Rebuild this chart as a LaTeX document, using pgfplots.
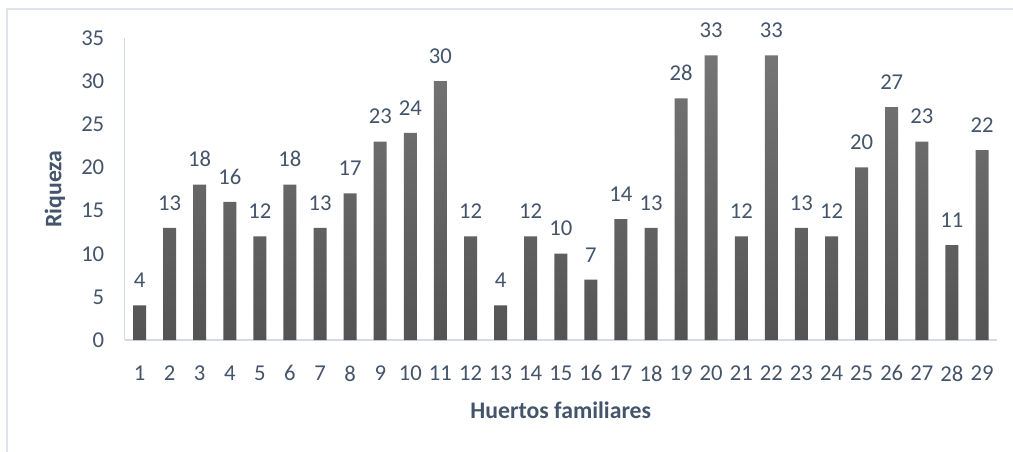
\documentclass[border=0pt]{standalone}
\usepackage{pgfplots}
\pgfplotsset{compat=1.18}
\usepackage{fontspec}
\setmainfont{Carlito}
\definecolor{txt}{HTML}{44546A}
\definecolor{axl}{HTML}{D3DAE3}
\definecolor{frm}{HTML}{DDE2EB}
\definecolor{bartop}{HTML}{757575}
\definecolor{barbot}{HTML}{545454}
\begin{document}
\begin{tikzpicture}
% page = 1013 x 451 px, 1 px = 0.75 pt
\useasboundingbox (0pt,0pt) rectangle (759.75pt,-338.25pt);
\draw[frm, line width=1.2pt] (5.25pt,-340pt) -- (5.25pt,-6.75pt) -- (762pt,-6.75pt);
\begin{axis}[
    at={(93.375pt,-255pt)}, anchor=south west,
    scale only axis,
    width=654.4pt, height=226.5pt,
    xmin=0.5, xmax=29.5,
    ymin=0, ymax=35,
    xtick={1,...,29},
    ytick={0,5,...,35},
    axis x line*=bottom,
    axis y line*=left,
    axis line style={axl, line width=1.1pt},
    major tick length=0pt,
    /pgf/number format/assume math mode=true,
    tick label style={font=\fontsize{17}{19}\selectfont, text=txt},
    yticklabel style={anchor=east, inner sep=0pt, xshift=-15pt},
    xticklabel style={anchor=north, inner sep=0pt, yshift=-19pt},
    xlabel={Huertos familiares},
    ylabel={Riqueza},
    label style={font=\fontsize{17.8}{20}\selectfont\bfseries, text=txt},
    xlabel style={at={(axis description cs:0.5,-0.232)}, anchor=center},
    ylabel style={at={(axis description cs:-0.0797,0.5)}, anchor=center},
    ybar,
    bar width=9.75pt,
    nodes near coords,
    every node near coord/.append style={font=\fontsize{17}{19}\selectfont, text=txt, anchor=south, inner sep=0pt, yshift=13pt},
]
\addplot[draw=none, top color=bartop, bottom color=barbot] coordinates {
(1,4) (2,13) (3,18) (4,16) (5,12) (6,18) (7,13) (8,17) (9,23) (10,24)
(11,30) (12,12) (13,4) (14,12) (15,10) (16,7) (17,14) (18,13) (19,28) (20,33)
(21,12) (22,33) (23,13) (24,12) (25,20) (26,27) (27,23) (28,11) (29,22)
};
\end{axis}
\end{tikzpicture}
\end{document}
